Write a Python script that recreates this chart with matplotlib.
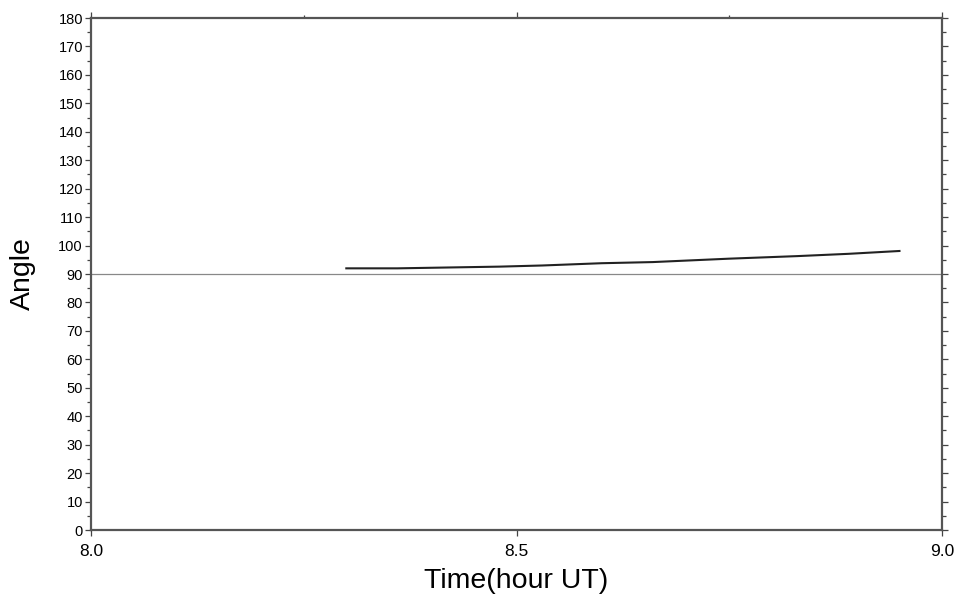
import numpy as np
import matplotlib
matplotlib.use('Agg')
import matplotlib.pyplot as plt

plt.rcParams['font.family'] = ['Liberation Sans', 'DejaVu Sans']

# 数据
time_hours = [8.30, 8.36, 8.42, 8.48, 8.53, 8.60, 8.66, 8.75, 8.83, 8.89, 8.95]
angle_deg = [92.0, 92.0, 92.3, 92.6, 93.0, 93.8, 94.2, 95.4, 96.3, 97.1, 98.1]
ref_angle = 90

x_ticks = [8.0, 8.5, 9.0]
x_labels = ['8.0', '8.5', '9.0']
y_ticks = np.arange(0, 181, 10)

fig = plt.figure(figsize=(9.55, 6.01), dpi=100)
ax = fig.add_axes([0.0953, 0.1181, 0.8911, 0.8519])

ax.axhline(ref_angle, color='#888888', linewidth=0.9)
ax.plot(time_hours, angle_deg, color='#222222', linewidth=1.5)

ax.set_xlim(8.0, 9.0)
ax.set_ylim(0, 180)

ax.set_xticks(x_ticks)
ax.set_xticklabels(x_labels, fontsize=12.5)
ax.set_xticks([8.25, 8.75], minor=True)
ax.set_yticks(y_ticks)
ax.set_yticklabels([str(v) for v in y_ticks], fontsize=10.5)
ax.set_yticks(np.arange(5, 180, 10), minor=True)

ax.tick_params(axis='both', which='major', direction='out', length=4.3, width=0.9,
               color='#444444', right=True, top=True)
ax.tick_params(axis='y', which='major', pad=1.5)
ax.tick_params(axis='x', which='major', pad=6)
ax.tick_params(axis='y', which='minor', direction='out', length=2.8, width=0.9,
               color='#444444', right=True)
ax.tick_params(axis='x', which='minor', direction='out', length=2.2, width=0.9,
               color='#444444', top=True, bottom=False)

for side in ['left', 'right', 'top', 'bottom']:
    ax.spines[side].set_linewidth(1.6)
    ax.spines[side].set_color('#555555')

ax.set_xlabel('Time(hour UT)', fontsize=20.5, labelpad=6)
ax.set_ylabel('Angle', fontsize=20.5, labelpad=16)

fig.savefig('out.png', dpi=100)
